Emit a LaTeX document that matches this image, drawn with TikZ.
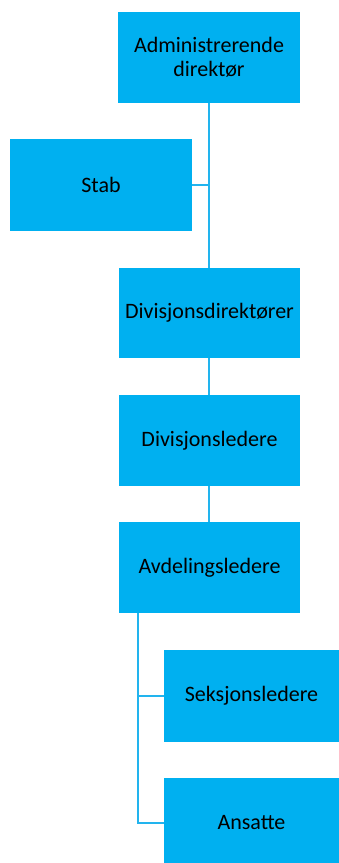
\documentclass[tikz,border=0pt]{standalone}
\usepackage{fontspec}
\setmainfont{Carlito}
\definecolor{boxblue}{HTML}{00B0F0}
\definecolor{lineblue}{HTML}{22B4EE}
\begin{document}
\begin{tikzpicture}[x=1pt,y=-1pt,
  orgbox/.style={rectangle, fill=boxblue, draw=none, inner sep=0pt, align=center,
    font=\fontsize{22}{24}\selectfont, text=black},
  conn/.style={draw=lineblue, line width=2pt}]
\useasboundingbox (0,0) rectangle (339,863);
\clip (0,0) rectangle (339,863);
\node[orgbox, minimum width=182pt, minimum height=91pt] (adm) at (209,57.5) {Administrerende\\direktør};
\node[orgbox, minimum width=182pt, minimum height=92pt] (stab) at (101,185) {Stab};
\node[orgbox, minimum width=181pt, minimum height=90pt] (divdir) at (209.5,313) {Divisjonsdirektører};
\node[orgbox, minimum width=181pt, minimum height=91pt] (divled) at (209.5,440.5) {Divisjonsledere};
\node[orgbox, minimum width=181pt, minimum height=91pt] (avd) at (209.5,567.5) {Avdelingsledere};
\node[orgbox, minimum width=175pt, minimum height=92pt] (seks) at (251.5,696) {Seksjonsledere};
\node[orgbox, minimum width=175pt, minimum height=90pt] (ans) at (251.5,823) {Ansatte};
\coordinate (a1) at (138,613);
\coordinate (s1) at (209,185);
\draw[conn] (adm.south) -- (divdir.north -| adm.south);
\draw[conn] (stab.east) -- (s1);
\draw[conn] (divdir.south -| adm.south) -- (divled.north -| adm.south);
\draw[conn] (divled.south -| adm.south) -- (avd.north -| adm.south);
\draw[conn] (a1) |- (ans.west);
\draw[conn] (a1 |- seks.west) -- (seks.west);
\end{tikzpicture}
\end{document}
